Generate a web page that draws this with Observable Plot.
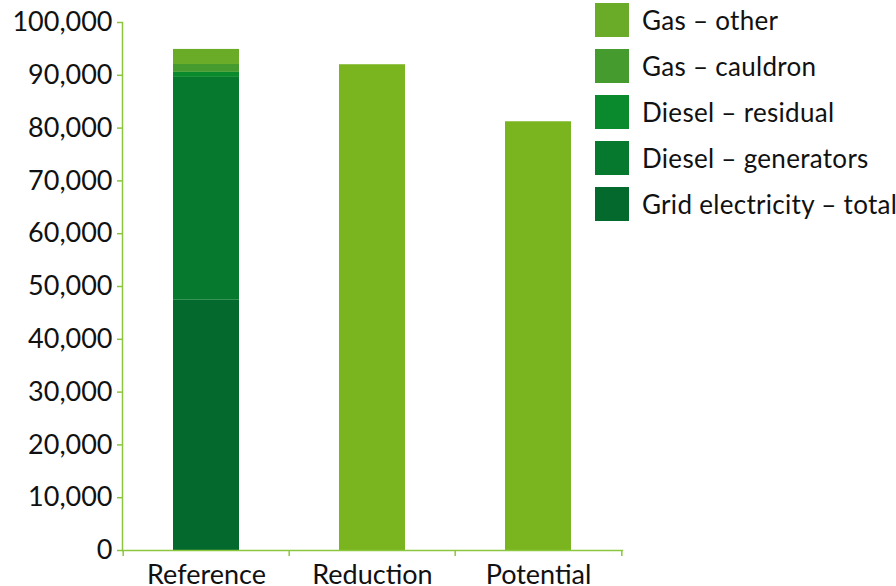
<!DOCTYPE html>
<html>
<head>
<meta charset="utf-8">
<script src="https://cdn.jsdelivr.net/npm/d3@7"></script>
<script src="https://cdn.jsdelivr.net/npm/@observablehq/plot@0.6"></script>
<style>
  html, body { margin: 0; padding: 0; background: #fff; }
  #wrap { position: relative; width: 896px; height: 586px; overflow: hidden; font-family: Lato, "Open Sans", sans-serif; }
  #legend { position: absolute; left: 595px; top: 3px; }
  .item { display: flex; align-items: center; height: 34px; margin-bottom: 12px; white-space: nowrap; }
  .sw { width: 34px; height: 34px; margin-right: 13px; flex: none; }
  .lab { font-size: 26px; color: #111; letter-spacing: 0.3px; }
</style>
</head>
<body>
<div id="wrap"><div id="legend"></div></div>
<script>
// Scenarios on the x axis
const scenarios = ["Reference", "Reduction", "Potential"];

// Energy sources stacked in the reference scenario (bottom to top)
const sources = ["Grid electricity – total", "Diesel – generators", "Diesel – residual", "Gas – cauldron", "Gas – other"];
const sourceColors = ["#03692d", "#07792e", "#0a8a2d", "#459b2e", "#6aab27"];
const referenceValues = [47400, 42200, 950, 1500, 2850];

// Totals for the two alternative scenarios
const altScenarios = ["Reduction", "Potential"];
const altTotals = [92000, 81200];
const altLabel = "Total";
const altColor = "#7ab41f";

// y axis ticks
const yTicks = [0, 10000, 20000, 30000, 40000, 50000, 60000, 70000, 80000, 90000, 100000];

const axisGreen = "#8cc63f";

const rows = [
  ...sources.map((s, i) => ({scenario: "Reference", source: s, value: referenceValues[i]})),
  ...altScenarios.map((s, i) => ({scenario: s, source: altLabel, value: altTotals[i]}))
];

const W = 896, H = 586;
const margin = {left: 122, right: 274, top: 22, bottom: 36};
const step = (W - margin.left - margin.right) / scenarios.length;

// short tick marks below the x axis at the category boundaries
function boundaryTicks(data, offset) {
  return Plot.tickX(data, {x: d => d, dx: offset, stroke: axisGreen, strokeWidth: 1.5,
    render: (index, scales, values, dims, ctx, next) => {
      const g = next(index, scales, values, dims, ctx);
      const base = dims.height - dims.marginBottom;
      d3.select(g).selectAll("line").attr("y1", base).attr("y2", base + 6);
      return g;
    }});
}

const plot = Plot.plot({
  width: W,
  height: H,
  marginLeft: margin.left,
  marginRight: margin.right,
  marginTop: margin.top,
  marginBottom: margin.bottom,
  style: {fontFamily: "Lato, 'Open Sans', sans-serif", fontSize: "27px", color: "#111", background: "transparent", overflow: "visible"},
  x: {domain: scenarios, padding: 0.6, paddingOuter: 0.3, label: null},
  y: {domain: [0, 100000], label: null},
  color: {domain: [...sources, altLabel], range: [...sourceColors, altColor]},
  marks: [
    Plot.barY(rows, {x: "scenario", y: "value", fill: "source", order: null}),
    // y axis
    Plot.axisY({ticks: yTicks, tickSize: 5, tickPadding: 5, stroke: axisGreen, fill: "#111", strokeWidth: 1.5,
      tickFormat: d => d3.format(",")(d), fontSize: 27, label: null}),
    Plot.frame({anchor: "left", stroke: axisGreen, strokeWidth: 1.5}),
    // x axis
    Plot.axisX({tickSize: 0, tickPadding: 14, fontSize: 27, fill: "#111", label: null}),
    Plot.frame({anchor: "bottom", stroke: axisGreen, strokeWidth: 1.5}),
    boundaryTicks(scenarios, -step / 2),
    boundaryTicks(scenarios.slice(-1), step / 2)
  ]
});

const wrap = document.getElementById("wrap");
wrap.insertBefore(plot, wrap.firstChild);

// Legend, top entry first
const legend = document.getElementById("legend");
sources.slice().reverse().forEach((s, k) => {
  const i = sources.length - 1 - k;
  const item = document.createElement("div");
  item.className = "item";
  item.innerHTML = `<div class="sw" style="background:${sourceColors[i]}"></div><div class="lab">${s}</div>`;
  legend.appendChild(item);
});
</script>
</body>
</html>
